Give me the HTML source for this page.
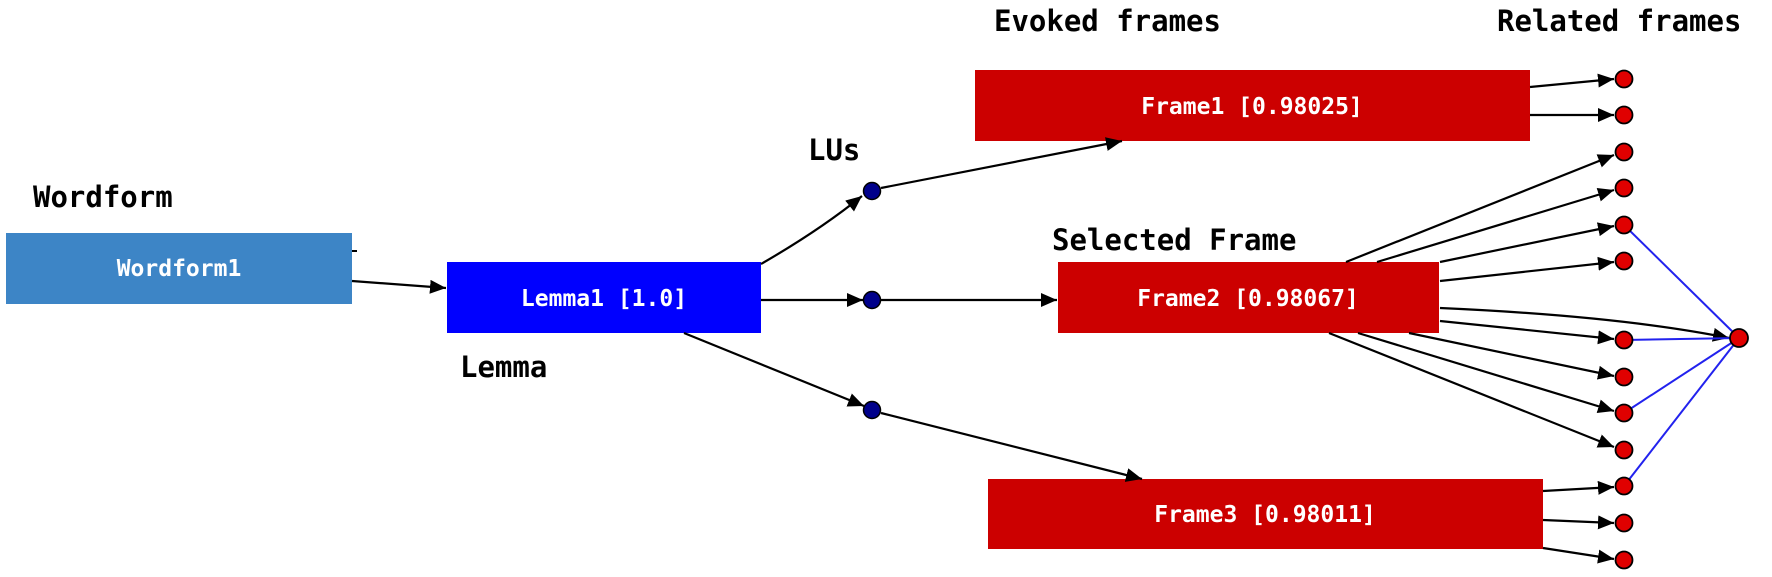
<!DOCTYPE html>
<html><head><meta charset="utf-8"><style>
html,body{margin:0;padding:0;background:#fff;}
svg{display:block;}
text{font-family:"DejaVu Sans Mono","Liberation Mono",monospace;}
</style></head><body>
<svg width="1772" height="577" viewBox="0 0 1772 577" xmlns="http://www.w3.org/2000/svg">
<defs>
<marker id="a" markerWidth="10" markerHeight="10" refX="9" refY="5" orient="auto" markerUnits="userSpaceOnUse" viewBox="0 0 10 10">
<path d="M0,0 L10,5 L0,10 z" fill="#000"/></marker>
<marker id="b" markerWidth="16" markerHeight="14" refX="16" refY="7" orient="auto" markerUnits="userSpaceOnUse" viewBox="0 0 16 14">
<path d="M0,0 L16,7 L0,14 z" fill="#000"/></marker>
</defs>
<g font-weight="bold" fill="#000" font-size="29">
<text x="33" y="207">Wordform</text>
<text x="460" y="377">Lemma</text>
<text x="808" y="160">LUs</text>
<text x="994" y="31">Evoked frames</text>
<text x="1497" y="31">Related frames</text>
<text x="1052" y="250">Selected Frame</text>
</g>
<rect x="6" y="233" width="346" height="71" fill="#3d85c6"/>
<rect x="447" y="262" width="314" height="71" fill="#0000ff"/>
<rect x="975" y="70" width="555" height="71" fill="#cc0000"/>
<rect x="1058" y="262" width="381" height="71" fill="#cc0000"/>
<rect x="988" y="479" width="555" height="70" fill="#cc0000"/>
<g fill="#fff" font-size="23" font-weight="bold" text-anchor="middle">
<text x="179" y="276">Wordform1</text>
<text x="604" y="306">Lemma1 [1.0]</text>
<text x="1252" y="114">Frame1 [0.98025]</text>
<text x="1248" y="306">Frame2 [0.98067]</text>
<text x="1265" y="522">Frame3 [0.98011]</text>
</g>
<g stroke="#000" stroke-width="2.2" fill="none" marker-end="url(#b)">
<line x1="352" y1="281" x2="446" y2="288"/>
<path d="M761,264 Q820,230 862,196"/>
<line x1="761" y1="300" x2="863" y2="300"/>
<line x1="684" y1="333" x2="864" y2="406"/>
<line x1="881" y1="188" x2="1122" y2="141"/>
<line x1="881" y1="300" x2="1057" y2="300"/>
<line x1="881" y1="413" x2="1142" y2="479"/>
<line x1="1530" y1="87" x2="1614" y2="79"/>
<line x1="1530" y1="115" x2="1614" y2="115"/>
<line x1="1346" y1="262" x2="1614" y2="155"/>
<line x1="1377" y1="262" x2="1614" y2="190"/>
<line x1="1440" y1="262" x2="1614" y2="226"/>
<line x1="1440" y1="281" x2="1614" y2="262"/>
<path d="M1440,308 Q1620,316 1729,338"/>
<line x1="1440" y1="321" x2="1614" y2="339"/>
<line x1="1409" y1="333" x2="1614" y2="376"/>
<line x1="1358" y1="333" x2="1614" y2="411"/>
<line x1="1329" y1="333" x2="1614" y2="447"/>
<line x1="1543" y1="491" x2="1614" y2="487"/>
<line x1="1543" y1="520" x2="1614" y2="523"/>
<line x1="1543" y1="548" x2="1614" y2="559"/>
</g>
<line x1="352" y1="251" x2="357" y2="251" stroke="#000" stroke-width="2"/>
<g stroke="#2222ee" stroke-width="2">
<line x1="1739" y1="338" x2="1624" y2="225"/>
<line x1="1739" y1="338" x2="1624" y2="340"/>
<line x1="1739" y1="338" x2="1624" y2="413"/>
<line x1="1739" y1="338" x2="1624" y2="486"/>
</g>
<g fill="#00008b" stroke="#000" stroke-width="1.5">
<circle cx="872" cy="191" r="8.5"/>
<circle cx="872" cy="300" r="8.5"/>
<circle cx="872" cy="410" r="8.5"/>
</g>
<g fill="#e00000" stroke="#000" stroke-width="1.8">
<circle cx="1624" cy="79" r="8.5"/>
<circle cx="1624" cy="115" r="8.5"/>
<circle cx="1624" cy="152" r="8.5"/>
<circle cx="1624" cy="188" r="8.5"/>
<circle cx="1624" cy="225" r="8.5"/>
<circle cx="1624" cy="261" r="8.5"/>
<circle cx="1624" cy="340" r="8.5"/>
<circle cx="1624" cy="377" r="8.5"/>
<circle cx="1624" cy="413" r="8.5"/>
<circle cx="1624" cy="450" r="8.5"/>
<circle cx="1624" cy="486" r="8.5"/>
<circle cx="1624" cy="523" r="8.5"/>
<circle cx="1624" cy="560" r="8.5"/>
<circle cx="1739" cy="338" r="9"/>
</g>
</svg>
</body></html>
